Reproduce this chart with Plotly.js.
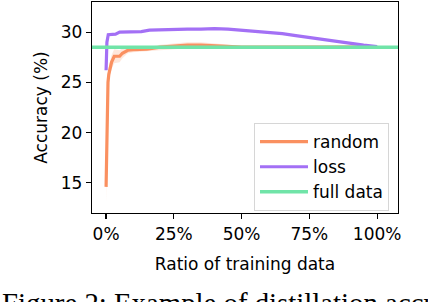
<!DOCTYPE html>
<html>
<head>
<meta charset="utf-8">
<script src="https://cdn.plot.ly/plotly-3.0.1.min.js"></script>
<style>html,body{margin:0;padding:0;background:#fff;overflow:hidden}</style>
</head>
<body>
<div id="chart" style="width:428px;height:302px"></div>
<script>
// Ratio of training data (%)
const xRandom = [0, 0.2, 0.4, 0.7, 1, 2, 3, 5, 6, 8, 10, 15, 20, 25, 30, 35, 40, 45, 50, 60, 70, 75, 80, 90, 100];
const randomMean = [14.6, 19.0, 23.0, 25.0, 25.8, 27.0, 27.6, 27.6, 27.9, 28.2, 28.25, 28.3, 28.5, 28.6, 28.7, 28.7, 28.65, 28.55, 28.5, 28.5, 28.5, 28.5, 28.55, 28.55, 28.5];
const randomStd = [1.5, 1.3, 1.0, 0.8, 0.7, 0.7, 0.7, 0.6, 0.5, 0.3, 0.25, 0.2, 0.25, 0.3, 0.3, 0.3, 0.25, 0.2, 0.15, 0.15, 0.15, 0.15, 0.15, 0.15, 0.1];

const xLoss = [0, 0.3, 0.8, 2, 3.5, 5, 7, 10, 13, 16, 20, 25, 30, 35, 40, 45, 50, 55, 60, 65, 70, 75, 80, 85, 90, 95, 100];
const lossMean = [26.2, 29.0, 29.75, 29.8, 29.8, 30.0, 30.0, 30.0, 30.05, 30.2, 30.25, 30.3, 30.3, 30.3, 30.35, 30.3, 30.2, 30.1, 30.0, 29.85, 29.65, 29.45, 29.25, 29.05, 28.85, 28.7, 28.55];

const fullDataAcc = 28.5;
const xRange = [-5.2, 107.7];
const yRange = [12, 33];
const xTicks = [0, 25, 50, 75, 100];
const xTickText = ['0%', '25%', '50%', '75%', '100%'];
const yTicks = [15, 20, 25, 30];

const cOrange = 'rgb(250,144,96)';
const cPurple = 'rgb(163,112,245)';
const cGreen = 'rgb(112,228,168)';

const lower = randomMean.map((m, i) => m - randomStd[i]);
const upper = randomMean.map((m, i) => m + randomStd[i]);

const traces = [
  {x: xRandom, y: lower, mode: 'lines', line: {width: 0, color: cOrange}, showlegend: false, hoverinfo: 'skip'},
  {x: xRandom, y: upper, mode: 'lines', line: {width: 0, color: cOrange}, fill: 'tonexty', fillcolor: 'rgba(250,144,96,0.22)', showlegend: false, hoverinfo: 'skip'},
  {x: xRandom, y: randomMean, mode: 'lines', name: 'random', line: {color: cOrange, width: 3.2}},
  {x: xLoss, y: lossMean, mode: 'lines', name: 'loss', line: {color: cPurple, width: 3.2}},
  {x: xRange, y: [fullDataAcc, fullDataAcc], mode: 'lines', name: 'full data', line: {color: cGreen, width: 3.5}}
];

const font = {family: 'DejaVu Sans', size: 17, color: '#000'};

const layout = {
  width: 428, height: 302,
  margin: {l: 92, r: 30, t: 2, b: 89, pad: 0},
  paper_bgcolor: '#fff', plot_bgcolor: '#fff',
  font: font,
  showlegend: true,
  xaxis: {
    range: xRange, tickvals: xTicks, ticktext: xTickText,
    ticks: 'outside', ticklen: 5, tickwidth: 1.2, tickcolor: '#000',
    showline: true, mirror: true, linecolor: '#000', linewidth: 1.3,
    showgrid: false, zeroline: false, automargin: false,
    tickfont: font,
    title: {text: 'Ratio of training data', font: font, standoff: 15}
  },
  yaxis: {
    range: yRange, tickvals: yTicks,
    ticks: 'outside', ticklen: 5, tickwidth: 1.2, tickcolor: '#000',
    showline: true, mirror: true, linecolor: '#000', linewidth: 1.3,
    showgrid: false, zeroline: false, automargin: false,
    tickfont: font,
    title: {text: 'Accuracy (%)', font: font, standoff: 8}
  },
  legend: {
    x: 0.9706, xanchor: 'right', y: 0.009, yanchor: 'bottom',
    bgcolor: 'rgba(255,255,255,0.85)', bordercolor: '#d6d6d6', borderwidth: 1,
    font: font, traceorder: 'normal', itemwidth: 48
  },
  annotations: [{
    text: 'Figure 2: Example of distillation accuracy',
    xref: 'paper', yref: 'paper', x: -0.3007, y: -0.3415,
    xanchor: 'left', yanchor: 'top', showarrow: false,
    font: {family: 'Liberation Serif', size: 28.8, color: '#000'}
  }]
};

Plotly.newPlot('chart', traces, layout, {staticPlot: true, displayModeBar: false});
</script>
</body>
</html>
